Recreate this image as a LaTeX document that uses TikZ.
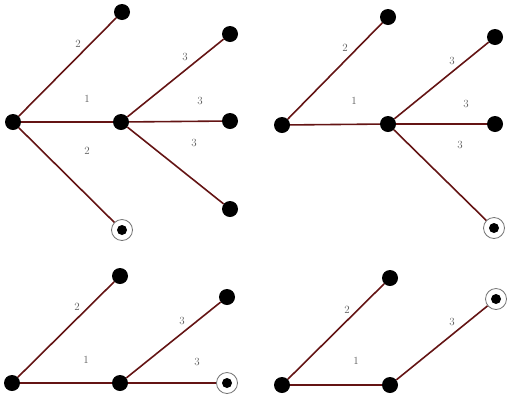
\documentclass[tikz,border=0pt]{standalone}
\begin{document}
\begin{tikzpicture}[x=1pt,y=-1pt,
  dot/.style={circle,fill=black,inner sep=0pt,minimum size=16pt},
  ringnode/.style={circle,draw=black!55,line width=0.8pt,fill=white,inner sep=0pt,minimum size=21pt,
    path picture={\fill[black] (path picture bounding box.center) circle (5pt);}},
  edge/.style={draw={rgb,255:red,100;green,20;blue,20},line width=1.6pt},
  lbl/.style={text=black!65,font=\fontsize{11}{12}\selectfont,inner sep=0pt}]
\useasboundingbox (0,0) rectangle (511,400);
% Tree 1
\node[dot] (a1) at (13,122) {};
\node[dot] (t1) at (122,12) {};
\node[dot] (b1) at (121,122) {};
\node[ringnode] (m1) at (122,230) {};
\node[dot] (l1a) at (230,34) {};
\node[dot] (l1b) at (230,121) {};
\node[dot] (l1c) at (230,209) {};
\draw[edge] (a1) -- (t1);
\draw[edge] (a1) -- (b1);
\draw[edge] (a1) -- (m1);
\draw[edge] (b1) -- (l1a);
\draw[edge] (b1) -- (l1b);
\draw[edge] (b1) -- (l1c);
\node[lbl] (e1a) at (78,44) {2};
\node[lbl] (e1b) at (87,99) {1};
\node[lbl] (e1c) at (87,151) {2};
\node[lbl] (e1d) at (185,57) {3};
\node[lbl] (e1e) at (200,101) {3};
\node[lbl] (e1f) at (194,143) {3};
% Tree 2
\node[dot] (a2) at (282,125) {};
\node[dot] (t2) at (388,17) {};
\node[dot] (b2) at (388,124) {};
\node[dot] (l2a) at (495,37) {};
\node[dot] (l2b) at (495,124) {};
\node[ringnode] (m2) at (494,228) {};
\draw[edge] (a2) -- (t2);
\draw[edge] (a2) -- (b2);
\draw[edge] (b2) -- (l2a);
\draw[edge] (b2) -- (l2b);
\draw[edge] (b2) -- (m2);
\node[lbl] (e2a) at (345,48) {2};
\node[lbl] (e2b) at (354,101) {1};
\node[lbl] (e2c) at (452,61) {3};
\node[lbl] (e2d) at (466,104) {3};
\node[lbl] (e2e) at (460,145) {3};
% Tree 3
\node[dot] (a3) at (12,383) {};
\node[dot] (t3) at (120,276) {};
\node[dot] (b3) at (120,383) {};
\node[dot] (l3a) at (227,297) {};
\node[ringnode] (m3) at (227,383) {};
\draw[edge] (a3) -- (t3);
\draw[edge] (a3) -- (b3);
\draw[edge] (b3) -- (l3a);
\draw[edge] (b3) -- (m3);
\node[lbl] (e3a) at (77,307) {2};
\node[lbl] (e3b) at (86,360) {1};
\node[lbl] (e3c) at (182,321) {3};
\node[lbl] (e3d) at (197,362) {3};
% Tree 4
\node[dot] (a4) at (282,385) {};
\node[dot] (t4) at (390,278) {};
\node[dot] (b4) at (390,385) {};
\node[ringnode] (m4) at (496,299) {};
\draw[edge] (a4) -- (t4);
\draw[edge] (a4) -- (b4);
\draw[edge] (b4) -- (m4);
\node[lbl] (e4a) at (347,310) {2};
\node[lbl] (e4b) at (356,361) {1};
\node[lbl] (e4c) at (452,322) {3};
\end{tikzpicture}
\end{document}
